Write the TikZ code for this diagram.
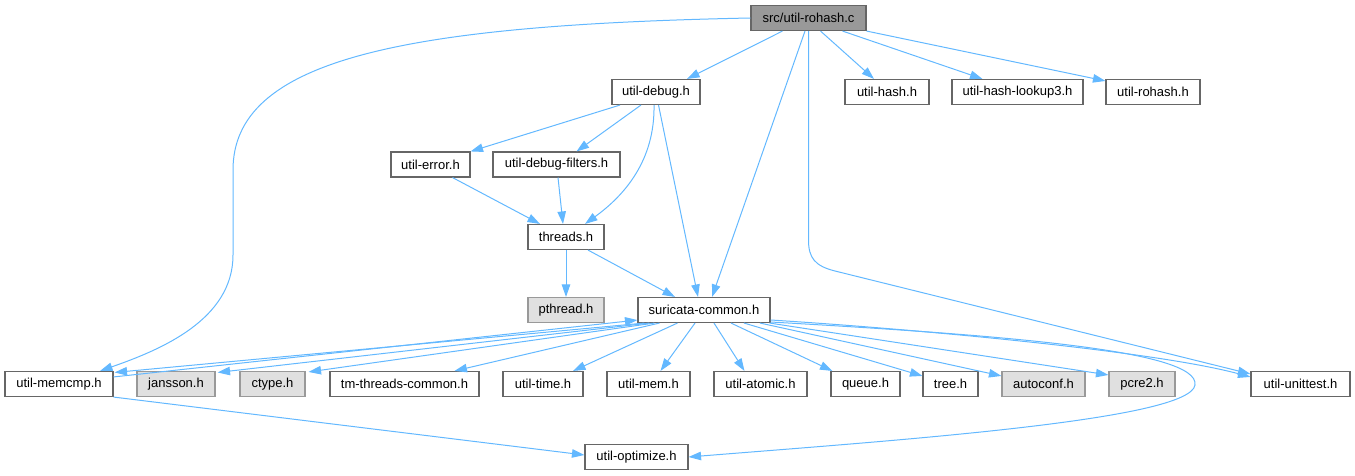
\documentclass[tikz,border=0pt]{standalone}
\usepackage{fontspec}
\setmainfont{Liberation Sans}
\usetikzlibrary{arrows.meta}
\definecolor{edgec}{HTML}{63B8FF}
\definecolor{bordc}{HTML}{666666}
\definecolor{rootc}{HTML}{999999}
\definecolor{undocf}{HTML}{E0E0E0}
\definecolor{undocb}{HTML}{999999}
\tikzset{
  box/.style={draw=bordc, fill=white, line width=1.1pt, minimum height=25pt, inner sep=0pt,
    font=\fontsize{13}{15}\selectfont, text=black},
  rootbox/.style={box, fill=rootc},
  undoc/.style={box, draw=undocb, fill=undocf},
  arr/.style={draw=edgec, line width=1pt, -{Triangle[length=12.5pt,width=8.5pt]}, fill=none},
}
\begin{document}
\begin{tikzpicture}[x=1pt,y=-1pt]
\useasboundingbox (0,0) rectangle (1355,476);
% row 0
\node[rootbox, minimum width=115pt] (src) at (808.5,18) {src/util-rohash.c};
% row 1
\node[box, minimum width=88pt] (udebug) at (656,92) {util-debug.h};
\node[box, minimum width=84pt] (uhash) at (887,92) {util-hash.h};
\node[box, minimum width=131pt] (lookup3) at (1017.5,92) {util-hash-lookup3.h};
\node[box, minimum width=94pt] (urohash) at (1153,92) {util-rohash.h};
% row 2
\node[box, minimum width=79pt] (uerror) at (430.5,164.5) {util-error.h};
\node[box, minimum width=127pt] (dfilters) at (556.5,164.5) {util-debug-filters.h};
% row 3
\node[box, minimum width=76pt] (threads) at (566,237) {threads.h};
% row 4
\node[undoc, minimum width=76pt] (pthread) at (566,310) {pthread.h};
\node[box, minimum width=132pt] (scommon) at (704,310) {suricata-common.h};
% row 5
\node[box, minimum width=108pt] (memcmp) at (59,384) {util-memcmp.h};
\node[undoc, minimum width=78pt] (jansson) at (176,384) {jansson.h};
\node[undoc, minimum width=65pt] (ctype) at (272.5,384) {ctype.h};
\node[box, minimum width=149pt] (tmthreads) at (404.5,384) {tm-threads-common.h};
\node[box, minimum width=80pt] (utime) at (543,384) {util-time.h};
\node[box, minimum width=83pt] (umem) at (648.5,384) {util-mem.h};
\node[box, minimum width=93pt] (uatomic) at (760.5,384) {util-atomic.h};
\node[box, minimum width=69pt] (queue) at (865.5,384) {queue.h};
\node[box, minimum width=55pt] (tree) at (950.5,384) {tree.h};
\node[undoc, minimum width=83pt] (autoconf) at (1043.5,384) {autoconf.h};
\node[undoc, minimum width=66pt] (pcre2) at (1142,384) {pcre2.h};
\node[box, minimum width=99pt] (unittest) at (1300.5,384) {util-unittest.h};
% row 6
\node[box, minimum width=103pt] (optimize) at (636.5,457) {util-optimize.h};

% edges from src
\draw[arr] ([xshift=-26pt]src.south) -- ([xshift=31pt]udebug.north);
\draw[arr] (src.west) .. controls (400,25) and (233,60) .. (233,170) -- (233,255)
   .. controls (233,320) and (160,350) .. ([xshift=41pt]memcmp.north);
\draw[arr] ([xshift=-3.5pt]src.south) -- ([xshift=8pt]scommon.north);
\draw[arr] ([xshift=12pt]src.south) -- ([xshift=-13pt]uhash.north);
\draw[arr] ([xshift=34pt]src.south) -- ([xshift=-35pt]lookup3.north);
\draw[arr] (src.south east) -- ([yshift=-2pt]urohash.north west);
\draw[arr] (src.south) -- (808.5,240) .. controls (808.5,258) and (815,266) .. (835,271)
   -- ([yshift=-3pt]unittest.north west);
% edges from util-debug
\draw[arr] ([xshift=-36pt]udebug.south) -- (uerror.north east);
\draw[arr] ([xshift=-15pt]udebug.south) -- ([xshift=20pt]dfilters.north);
\draw[arr] ([xshift=-2pt]udebug.south) .. controls (655,160) and (625,195) .. ([xshift=19pt]threads.north);
\draw[arr] ([xshift=2.5pt]udebug.south) -- ([xshift=-6pt]scommon.north);
% row 2 -> threads
\draw[arr] ([xshift=22pt]uerror.south) -- ([xshift=-26pt]threads.north);
\draw[arr] ([xshift=1.5pt]dfilters.south) -- ([xshift=-3pt]threads.north);
% threads
\draw[arr] (threads.south) -- (pthread.north);
\draw[arr] ([xshift=22pt]threads.south) -- ([xshift=-29pt]scommon.north);
% suricata-common
\draw[arr] ([xshift=7pt]scommon.south west) -- ([xshift=1pt,yshift=-1.5pt]memcmp.north east);
\draw[arr] ([yshift=-6pt]memcmp.north east) -- ([yshift=3pt]scommon.south west);
\draw[arr] ([xshift=12pt]scommon.south west) -- ([xshift=2pt,yshift=-1.5pt]jansson.north east);
\draw[arr] ([xshift=17pt]scommon.south west) -- ([xshift=3pt,yshift=-1pt]ctype.north east);
\draw[arr] ([xshift=22pt]scommon.south west) -- ([xshift=50pt]tmthreads.north);
\draw[arr] ([xshift=40pt]scommon.south west) -- ([xshift=30pt]utime.north);
\draw[arr] ([xshift=-9pt]scommon.south) -- ([xshift=12pt]umem.north);
\draw[arr] ([xshift=10pt]scommon.south) -- ([xshift=-16pt]uatomic.north);
\draw[arr] ([xshift=27pt]scommon.south) -- ([xshift=2pt]queue.north west);
\draw[arr] ([xshift=40pt]scommon.south) -- ([yshift=-5pt]tree.north west);
\draw[arr] ([xshift=56pt]scommon.south) -- ([yshift=-5pt]autoconf.north west);
\draw[arr] ([xshift=-1pt]scommon.south east) -- ([yshift=-4pt]pcre2.north west);
\draw[arr] ([yshift=-10pt]scommon.east) .. controls (900,328) and (1150,350) .. ([yshift=-6pt]unittest.north west);
\draw[arr] ([yshift=-12pt]scommon.east) .. controls (1000,335) and (1200,350) .. (1195,385)
   .. controls (1190,420) and (900,440) .. (optimize.east);
% util-memcmp
\draw[arr] (memcmp.south east) -- ([yshift=2pt]optimize.west);
\end{tikzpicture}
\end{document}
